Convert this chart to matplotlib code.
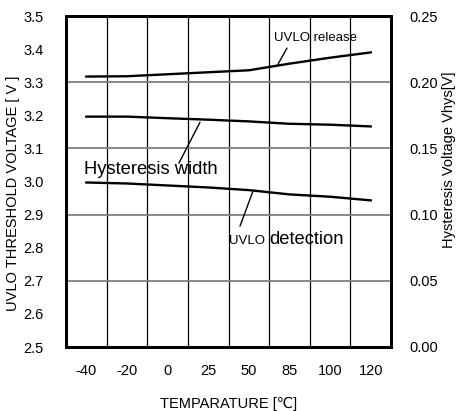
import matplotlib
matplotlib.use("Agg")
import matplotlib.pyplot as plt
import numpy as np

plt.rcParams['font.family'] = ['Liberation Sans', 'DejaVu Sans']

temps = ["-40", "-20", "0", "25", "50", "85", "100", "120"]
uvlo_release = [3.317, 3.318, 3.324, 3.330, 3.336, 3.356, 3.374, 3.390]
uvlo_detection = [2.997, 2.994, 2.988, 2.982, 2.974, 2.961, 2.954, 2.943]
hysteresis = [0.174, 0.174, 0.1728, 0.1717, 0.1704, 0.1686, 0.1679, 0.1666]
left_ticks = [2.5, 2.6, 2.7, 2.8, 2.9, 3.0, 3.1, 3.2, 3.3, 3.4, 3.5]
hgrid = [2.7, 2.9, 3.1, 3.3]
right_ticks = [0.00, 0.05, 0.10, 0.15, 0.20, 0.25]

W, H = 457, 411
fig = plt.figure(figsize=(W / 100, H / 100), dpi=100)
ax = fig.add_axes([66 / W, 1 - 347 / H, (391 - 66) / W, (347 - 16) / H])

x = np.arange(len(temps))
ax.set_xlim(-0.5, len(temps) - 0.5)
ax.set_ylim(2.5, 3.5)

ax.set_xticks(x)
ax.set_xticklabels(temps)
ax.set_xticks(x[:-1] + 0.5, minor=True)
ax.set_yticks(left_ticks)
ax.set_yticklabels([f"{v:.1f}" for v in left_ticks])
ax.yaxis.remove_overlapping_locs = False
ax.set_yticks(hgrid, minor=True)

ax.grid(False)
ax.xaxis.grid(True, which='minor', color='black', linewidth=0.9)
ax.yaxis.grid(True, which='minor', color='#808080', linewidth=1.3)
ax.set_axisbelow(True)

ax.tick_params(axis='both', which='both', length=0)
ax.tick_params(axis='x', labelsize=10.5, pad=12)
ax.tick_params(axis='y', labelsize=10.5, pad=16)

for s in ax.spines.values():
    s.set_linewidth(2.0)
    s.set_color('black')

ax.plot(x, uvlo_release, color='black', linewidth=1.7, zorder=3)
ax.plot(x, uvlo_detection, color='black', linewidth=1.7, zorder=3)

ax2 = ax.twinx()
ax2.set_ylim(0.0, 0.25)
ax2.set_yticks(right_ticks)
ax2.set_yticklabels([f"{v:.2f}" for v in right_ticks])
ax2.tick_params(axis='y', length=0, labelsize=10.5, pad=13)
for s in ax2.spines.values():
    s.set_linewidth(2.0)
ax2.plot(x, hysteresis, color='black', linewidth=1.7, zorder=3)

ax.set_xlabel("TEMPARATURE [℃]", fontsize=10.5, labelpad=14)
fig.text(13 / W, 1 - 193 / H, "UVLO THRESHOLD VOLTAGE [ V ]", rotation=90,
         ha='center', va='center', fontsize=10.5)
fig.text(449 / W, 1 - 160 / H, "Hysteresis Voltage Vhys[V]", rotation=90,
         ha='center', va='center', fontsize=10.5)

# annotations
ax.text(4.627, 3.425, "UVLO release", fontsize=9.5, ha='left', va='baseline')
ax.annotate('', xy=(4.694, 3.349), xytext=(4.94, 3.403),
            arrowprops=dict(arrowstyle='-', color='black', linewidth=1.0,
                            shrinkA=0, shrinkB=0))

ax.text(-0.057, 3.022, "Hysteresis width", fontsize=13.2, ha='left', va='baseline')
ax.annotate('', xy=(2.798, 3.179), xytext=(2.28, 3.0555),
            arrowprops=dict(arrowstyle='-', color='black', linewidth=1.0,
                            shrinkA=0, shrinkB=0))

ax.text(3.512, 2.8105, "UVLO", fontsize=9.5, ha='left', va='baseline')
ax.text(4.497, 2.8105, "detection", fontsize=13.2, ha='left', va='baseline')
ax.annotate('', xy=(4.096, 2.969), xytext=(3.783, 2.865),
            arrowprops=dict(arrowstyle='-', color='black', linewidth=1.0,
                            shrinkA=0, shrinkB=0))

fig.savefig("out.png", dpi=100, facecolor='white')
